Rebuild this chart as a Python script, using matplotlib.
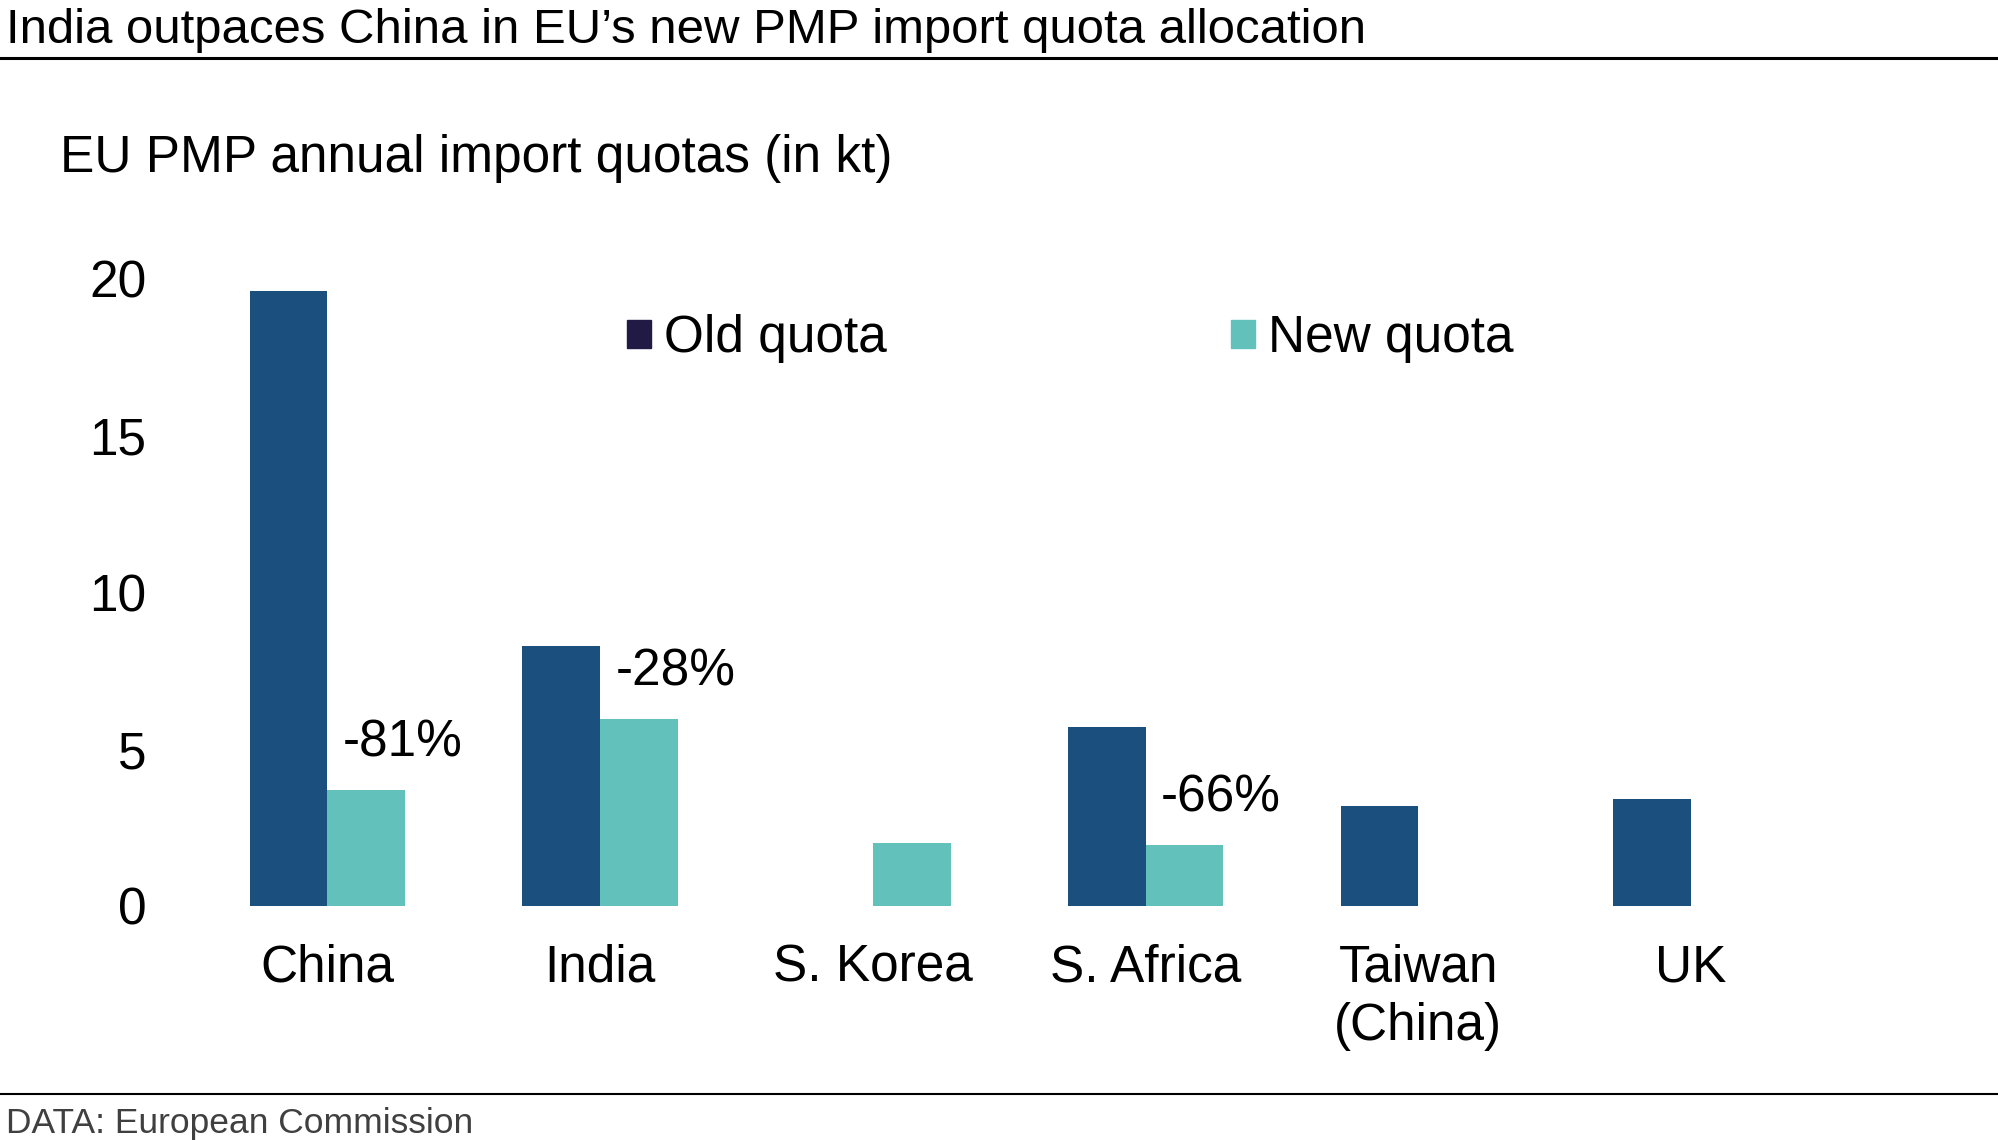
import matplotlib
matplotlib.use('Agg')
import numpy as np
from matplotlib import pyplot as plt
from matplotlib.patches import Patch

plt.rcParams['font.family'] = ['Liberation Sans', 'DejaVu Sans']

countries = ['China', 'India', 'S. Korea', 'S. Africa', 'Taiwan\n(China)', 'UK']
old_quota = [19.6, 8.3, 0.0, 5.7, 3.2, 3.4]
new_quota = [3.7, 5.95, 2.0, 1.95, 0.0, 0.0]
change_labels = ['-81%', '-28%', None, '-66%', None, None]

old_col = '#1b4f7e'
new_col = '#62c1bb'
legend_old_col = '#201a44'

fig = plt.figure(figsize=(19.98, 11.40), dpi=100)
ax = fig.add_axes([0.0956, 0.2053, 0.819, 0.55])

x = np.arange(len(countries))
w = 0.285
ax.bar(x - w / 2, old_quota, width=w, color=old_col, linewidth=0)
ax.bar(x + w / 2, new_quota, width=w, color=new_col, linewidth=0)

fs = 37
for i, lab in enumerate(change_labels):
    if lab:
        ax.text(x[i] + w / 2 + 0.135, new_quota[i] + 1.5, lab, ha='center', va='center',
                fontsize=fs, color='black')

ax.set_xlim(-0.5, 5.5)
ax.set_ylim(0, 20)
ax.set_yticks([0, 5, 10, 15, 20])
ax.set_xticks(x)
ax.set_xticklabels(countries, fontsize=fs, linespacing=1.25)
ax.tick_params(axis='y', labelsize=fs, length=0, pad=32)
ax.tick_params(axis='x', length=0, pad=27)
for s in ax.spines.values():
    s.set_visible(False)

handles = [Patch(color=legend_old_col), Patch(color=new_col)]
ax.legend(handles, ['Old quota', 'New quota'], ncol=2, loc='center left',
          bbox_to_anchor=(0.2665, 0.905), frameon=False, fontsize=fs,
          borderaxespad=0, borderpad=0,
          handlelength=0.47, handleheight=0.47, handletextpad=0.25, columnspacing=6.7)

fig.text(0.003, 0.962, 'India outpaces China in EU\u2019s new PMP import quota allocation',
         fontsize=35.4, va='baseline', ha='left')
fig.add_artist(plt.Line2D([0, 1], [0.949, 0.949], color='black', linewidth=2.2))
fig.text(0.03, 0.849, 'EU PMP annual import quotas (in kt)', fontsize=fs, va='baseline', ha='left')
fig.add_artist(plt.Line2D([0, 1], [0.040, 0.040], color='black', linewidth=1.5))
fig.text(0.003, 0.006, 'DATA: European Commission', fontsize=25.5, color='#404040',
         va='baseline', ha='left')

plt.savefig('out.png', dpi=100)
